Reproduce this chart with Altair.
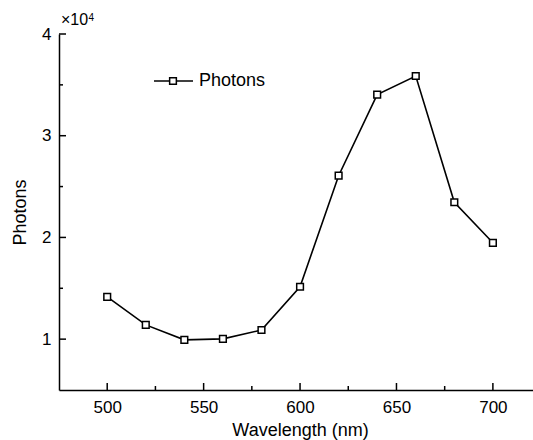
import altair as alt
import pandas as pd

# ---- data ----
wavelength = [500, 520, 540, 560, 580, 600, 620, 640, 660, 680, 700]
photons = [14160, 11400, 9930, 10030, 10900, 15150, 26070, 34040, 35870, 23460, 19470]
x_major = [500, 550, 600, 650, 700]
x_minor = [525, 575, 625, 675]
y_major = [1, 2, 3, 4]
y_minor = [1.5, 2.5, 3.5]
series_name = "Photons"

W, H = 474, 356
FONT = "Liberation Sans"

df = pd.DataFrame({"wl": wavelength, "ph": [p / 1e4 for p in photons]})

xs = alt.Scale(domain=[475, 720.8], nice=False, zero=False)
ys = alt.Scale(domain=[0.5, 4], nice=False, zero=False)

x_axis = alt.Axis(values=x_major, tickSize=0, labelPadding=9, labelFontSize=17,
                  labelFont=FONT, labelColor="black", grid=False,
                  domainColor="black", domainWidth=1.5,
                  title="Wavelength (nm)", titleFont=FONT, titleFontSize=18,
                  titleFontWeight="normal", titleColor="black",
                  titleX=241, titleY=45, titleBaseline="alphabetic", titleAlign="center")
y_axis = alt.Axis(values=y_major, format="d", tickSize=0, labelPadding=8, labelFontSize=17,
                  labelFont=FONT, labelColor="black", grid=False,
                  domainColor="black", domainWidth=1.5,
                  title="Photons", titleFont=FONT, titleFontSize=18,
                  titleFontWeight="normal", titleColor="black",
                  titleAngle=270, titleX=-34, titleY=H / 2,
                  titleBaseline="alphabetic", titleAlign="center")

base = alt.Chart(df)

line = base.mark_line(color="black", strokeWidth=1.6).encode(
    x=alt.X("wl:Q", scale=xs, axis=x_axis),
    y=alt.Y("ph:Q", scale=ys, axis=y_axis),
)
pts = base.mark_point(shape="square", size=45, filled=True, fill="white",
                      stroke="black", strokeWidth=1.5, opacity=1).encode(
    x=alt.X("wl:Q", scale=xs),
    y=alt.Y("ph:Q", scale=ys),
)

xmaj = alt.Chart(pd.DataFrame({"v": x_major})).mark_rule(color="black", strokeWidth=1.5).encode(
    x=alt.X("v:Q", scale=xs), y=alt.value(H), y2=alt.value(H - 7))
xmin = alt.Chart(pd.DataFrame({"v": x_minor})).mark_rule(color="black", strokeWidth=1.5).encode(
    x=alt.X("v:Q", scale=xs), y=alt.value(H), y2=alt.value(H - 4))
ymaj = alt.Chart(pd.DataFrame({"v": y_major})).mark_rule(color="black", strokeWidth=1.5).encode(
    y=alt.Y("v:Q", scale=ys), x=alt.value(0), x2=alt.value(7))
ymin = alt.Chart(pd.DataFrame({"v": y_minor})).mark_rule(color="black", strokeWidth=1.5).encode(
    y=alt.Y("v:Q", scale=ys), x=alt.value(0), x2=alt.value(4))

# legend
leg = pd.DataFrame({"name": [series_name]})
leg_line = alt.Chart(leg).mark_rule(color="black", strokeWidth=1.6).encode(
    x=alt.value(95), x2=alt.value(134), y=alt.value(47))
leg_pt = alt.Chart(leg).mark_point(shape="square", size=45, filled=True, fill="white",
                                   stroke="black", strokeWidth=1.5, opacity=1).encode(
    x=alt.value(114), y=alt.value(47))
leg_txt = alt.Chart(leg).mark_text(align="left", baseline="middle", font=FONT,
                                   fontSize=18, color="black").encode(
    x=alt.value(140), y=alt.value(47), text="name:N")

# multiplier
mult = alt.Chart(pd.DataFrame({"t": ["×10"]})).mark_text(
    align="left", baseline="alphabetic", font=FONT, fontSize=16, color="black").encode(
    x=alt.value(2), y=alt.value(-9), text="t:N")
mult_exp = alt.Chart(pd.DataFrame({"t": ["4"]})).mark_text(
    align="left", baseline="alphabetic", font=FONT, fontSize=10, color="black").encode(
    x=alt.value(29.5), y=alt.value(-13), text="t:N")

chart = alt.layer(line, pts, xmaj, xmin, ymaj, ymin, leg_line, leg_pt, leg_txt,
                  mult, mult_exp).properties(
    width=W, height=H,
    padding={"left": 59, "top": 34, "right": 0, "bottom": 50},
    autosize=alt.AutoSizeParams(type="none"),
    background="white",
).configure_view(stroke=None)

chart.save("out.html", embed_options={"renderer": "svg", "actions": False})
